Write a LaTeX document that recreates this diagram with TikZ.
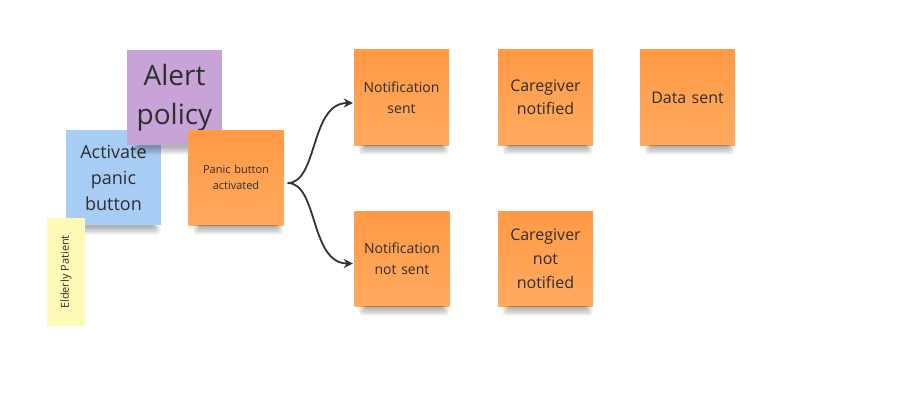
\documentclass[tikz,border=0pt]{standalone}
\usepackage{fontspec}
\setmainfont{Open Sans}
\usetikzlibrary{arrows.meta,calc}
\definecolor{orng}{HTML}{FF9A45}
\definecolor{orngl}{HTML}{FFAA60}
\definecolor{bluen}{HTML}{A8CDF4}
\definecolor{purpn}{HTML}{C8A3D7}
\definecolor{yelln}{HTML}{FFF9B8}
\definecolor{txt}{HTML}{2E2E2E}
\definecolor{arr}{HTML}{333333}
\tikzset{
  note/.style={rectangle, inner sep=0pt, minimum width=95pt, minimum height=95pt,
    text width=88pt, align=center, text=txt},
  onote/.style={note, top color=orng, bottom color=orngl},
  flow/.style={arr, line width=1.8pt, -{Stealth[length=9pt,width=9pt]}},
  shadowband/.style={fill=black, opacity=0.055, rounded corners=3pt},
}
\newcommand\noteshadow[1]{%
  \foreach \i in {1,...,6} {
    \fill[shadowband] ($(#1.south west)+(12-\i*1.2,0)$) rectangle ($(#1.south east)+(-8+\i*1.2,1+\i*1.4)$);
  }%
}
\begin{document}
\begin{tikzpicture}[x=1pt,y=-1pt]
\useasboundingbox (0,0) rectangle (917,412);
\fill[white] (0,0) rectangle (917,412);
% left cluster
\node[note, fill=bluen, font=\fontsize{18}{26}\selectfont] (act) at (113.5,177.5) {Activate\\panic\\button};
\noteshadow{act}
\node[note, fill=purpn, font=\fontsize{28}{39}\selectfont] (alert) at (174.5,97.5) {Alert\\policy};
\noteshadow{alert}
\node[rectangle, inner sep=0pt, minimum width=38pt, minimum height=108pt, fill=yelln, text=txt] (eld) at (66,272) {};
\node[rotate=90, text=txt, font=\fontsize{11}{13}\selectfont] (eldt) at (eld.center) {Elderly Patient};
\node[onote, font=\fontsize{11}{16}\selectfont] (panic) at (236,177.5) {Panic button\\activated};
\noteshadow{panic}
% right notes
\node[onote, font=\fontsize{14}{21}\selectfont] (ns) at (401.5,97.5) {Notification\\sent};
\noteshadow{ns}
\node[onote, font=\fontsize{16}{23}\selectfont] (cn) at (545.5,97.5) {Caregiver\\notified};
\noteshadow{cn}
\node[onote, font=\fontsize{16}{23}\selectfont] (ds) at (687.5,97.5) {Data sent};
\noteshadow{ds}
\node[onote, font=\fontsize{14}{21}\selectfont] (nns) at (402,258.5) {Notification\\not sent};
\noteshadow{nns}
\node[onote, font=\fontsize{16}{24}\selectfont] (cnn) at (545.5,258.5) {Caregiver\\not\\notified};
\noteshadow{cnn}
% connectors
\coordinate (fork) at ($(panic.east)+(4,5.5)$);
\coordinate (e1) at ($(ns.west)+(-1,5.5)$);
\coordinate (e2) at ($(nns.west)+(-1.5,5)$);
\draw[flow] (fork) .. controls (318,183) and (310,103) .. (e1);
\draw[flow] (fork) .. controls (318,183) and (310,263.5) .. (e2);
\end{tikzpicture}
\end{document}
